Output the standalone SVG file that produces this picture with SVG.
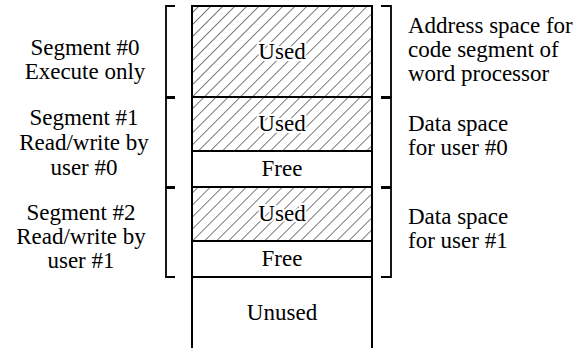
<svg xmlns="http://www.w3.org/2000/svg" width="581" height="348" viewBox="0 0 581 348">
<style>
text{font-family:"Liberation Serif","Times New Roman",serif;font-size:23px;fill:#000}
.c{text-anchor:middle}
.h{stroke:#fff;stroke-width:4;paint-order:stroke;stroke-linejoin:round}
.box{fill:none;stroke:#000;stroke-width:2}
.br{fill:none;stroke:#000;stroke-width:1.8}
</style>
<defs>
<pattern id="hatch" patternUnits="userSpaceOnUse" width="8.5" height="8.5" patternTransform="rotate(45)">
<line x1="0" y1="0" x2="0" y2="8.5" stroke="#333" stroke-width="1.3"/>
</pattern>
</defs>
<rect x="0" y="0" width="581" height="348" fill="#fff"/>
<g id="memory">
<rect x="192" y="6" width="180" height="91" fill="url(#hatch)"/>
<rect x="192" y="97" width="180" height="54" fill="url(#hatch)"/>
<rect x="192" y="187" width="180" height="54" fill="url(#hatch)"/>
<path class="box" d="M192,348 V6 H372 V348 M192,97 H372 M192,151 H372 M192,187 H372 M192,241 H372 M192,277 H372"/>
<text class="c h" x="282" y="59">Used</text>
<text class="c h" x="282" y="131">Used</text>
<text class="c" x="282" y="176">Free</text>
<text class="c h" x="282" y="221">Used</text>
<text class="c" x="282" y="266">Free</text>
<text class="c" x="282" y="320">Unused</text>
</g>
<g id="connectors">
<path class="br" d="M175,6 H166 V97 H175"/>
<path class="br" d="M175,98 H166 V187 H175"/>
<path class="br" d="M175,188 H166 V277 H175"/>
<path class="br" d="M381,6 H391 V97 H381"/>
<path class="br" d="M381,98 H391 V187 H381"/>
<path class="br" d="M381,188 H391 V277 H381"/>
</g>
<g id="seg0">
<text class="c" x="85" y="55">Segment #0</text>
<text class="c" x="85" y="79">Execute only</text>
</g>
<g id="seg1">
<text class="c" x="84" y="125">Segment #1</text>
<text class="c" x="84" y="150">Read/write by</text>
<text class="c" x="84" y="175">user #0</text>
</g>
<g id="seg2">
<text class="c" x="81" y="220">Segment #2</text>
<text class="c" x="81" y="244">Read/write by</text>
<text class="c" x="81" y="268">user #1</text>
</g>
<g id="desc0">
<text x="408" y="33">Address space for</text>
<text x="408" y="57">code segment of</text>
<text x="408" y="81">word processor</text>
</g>
<g id="desc1">
<text x="408" y="131">Data space</text>
<text x="408" y="155">for user #0</text>
</g>
<g id="desc2">
<text x="408" y="224">Data space</text>
<text x="408" y="248">for user #1</text>
</g>
</svg>
